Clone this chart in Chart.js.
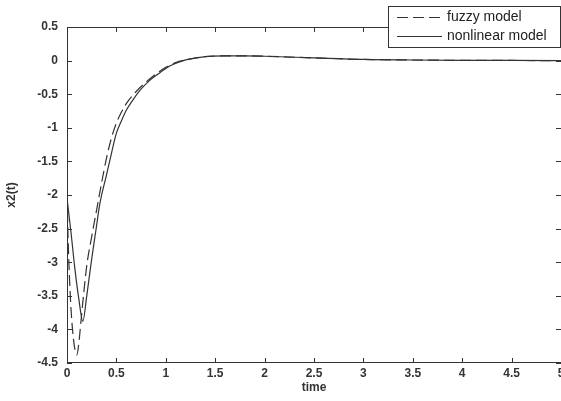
<!DOCTYPE html>
<html>
<head>
<meta charset="utf-8">
<script src="https://cdn.jsdelivr.net/npm/chart.js@4.4.1/dist/chart.umd.min.js"></script>
<style>
  html, body { margin: 0; padding: 0; background: #fff; }
  #wrap { width: 561px; height: 401px; }
</style>
</head>
<body>
<div id="wrap"><canvas id="chart" width="561" height="401"></canvas></div>
<script>
// Data
const tFuzzy = [0, 0.01, 0.03, 0.05, 0.08, 0.1, 0.12, 0.14, 0.17, 0.2, 0.25, 0.3, 0.35, 0.4, 0.45, 0.5, 0.55, 0.6, 0.7, 0.8, 0.9, 1.0, 1.1, 1.2, 1.4, 1.6, 1.8, 2.0, 2.5, 3.0, 3.5, 4.0, 4.5, 5.0];
const xFuzzy = [-2.0, -2.6, -3.4, -3.9, -4.3, -4.38, -4.2, -3.9, -3.45, -3.05, -2.62, -2.22, -1.82, -1.45, -1.15, -0.93, -0.77, -0.64, -0.46, -0.32, -0.2, -0.1, -0.03, 0.01, 0.06, 0.07, 0.07, 0.065, 0.04, 0.017, 0.009, 0.004, 0.002, 0.0];

const tNonlinear = [0, 0.04, 0.08, 0.12, 0.16, 0.2, 0.25, 0.3, 0.33, 0.4, 0.45, 0.5, 0.55, 0.6, 0.67, 0.74, 0.84, 0.94, 1.04, 1.14, 1.2, 1.4, 1.6, 1.8, 2.0, 2.5, 3.0, 3.5, 4.0, 4.5, 5.0];
const xNonlinear = [-2.05, -2.55, -3.1, -3.55, -3.88, -3.5, -2.95, -2.45, -2.15, -1.7, -1.38, -1.08, -0.9, -0.74, -0.58, -0.44, -0.29, -0.18, -0.08, -0.02, 0.01, 0.06, 0.07, 0.07, 0.065, 0.04, 0.017, 0.009, 0.004, 0.002, 0.0];

const seriesNames = ['fuzzy model', 'nonlinear model'];
const xTicks = [0, 0.5, 1, 1.5, 2, 2.5, 3, 3.5, 4, 4.5, 5];
const yTicks = [0.5, 0, -0.5, -1, -1.5, -2, -2.5, -3, -3.5, -4, -4.5];

const lineColor = '#333333';
const fontFamily = '"Liberation Sans", Arial, sans-serif';

function toPoints(ts, xs) {
    return ts.map((t, i) => ({ x: t, y: xs[i] }));
}

// Box frame (right edge falls off the canvas), inward ticks, legend box
const matlabFrame = {
    id: 'matlabFrame',
    afterDraw(chart) {
        const ctx = chart.ctx;
        const a = chart.chartArea;
        const sx = chart.scales.x;
        const sy = chart.scales.y;
        const len = 5;
        ctx.save();
        ctx.strokeStyle = lineColor;
        ctx.lineWidth = 1;
        ctx.beginPath();
        ctx.moveTo(a.right, a.top + 0.5);
        ctx.lineTo(a.left + 0.5, a.top + 0.5);
        ctx.lineTo(a.left + 0.5, a.bottom - 0.5);
        ctx.lineTo(a.right, a.bottom - 0.5);
        xTicks.forEach(v => {
            const px = Math.round(sx.getPixelForValue(v)) + 0.5;
            ctx.moveTo(px, a.bottom); ctx.lineTo(px, a.bottom - len);
            ctx.moveTo(px, a.top); ctx.lineTo(px, a.top + len);
        });
        yTicks.forEach(v => {
            const py = Math.round(sy.getPixelForValue(v)) + 0.5;
            ctx.moveTo(a.left, py); ctx.lineTo(a.left + len, py);
            ctx.moveTo(a.right, py); ctx.lineTo(a.right - len, py);
        });
        ctx.stroke();

        // legend
        const lx = 388, ly = 6, lw = 172, lh = 41;
        ctx.fillStyle = '#fff';
        ctx.fillRect(lx, ly, lw, lh);
        ctx.strokeRect(lx + 0.5, ly + 0.5, lw, lh);
        ctx.font = '14px ' + fontFamily;
        ctx.textBaseline = 'middle';
        chart.data.datasets.forEach((ds, i) => {
            const y = ly + 11 + i * 19 + 0.5;
            ctx.strokeStyle = ds.borderColor;
            ctx.lineWidth = ds.borderWidth;
            ctx.setLineDash(ds.borderDash || []);
            ctx.beginPath();
            ctx.moveTo(lx + 9, y);
            ctx.lineTo(lx + 54, y);
            ctx.stroke();
            ctx.setLineDash([]);
            ctx.fillStyle = '#222';
            ctx.fillText(ds.label, lx + 59, y);
        });
        ctx.restore();
    }
};

new Chart(document.getElementById('chart'), {
    type: 'line',
    data: {
        datasets: [
            {
                label: seriesNames[0],
                data: toPoints(tFuzzy, xFuzzy),
                borderColor: lineColor,
                borderWidth: 1.2,
                borderDash: [11, 5],
                pointRadius: 0,
                fill: false,
                cubicInterpolationMode: 'monotone'
            },
            {
                label: seriesNames[1],
                data: toPoints(tNonlinear, xNonlinear),
                borderColor: lineColor,
                borderWidth: 1.2,
                pointRadius: 0,
                fill: false,
                cubicInterpolationMode: 'monotone'
            }
        ]
    },
    options: {
        responsive: false,
        animation: false,
        devicePixelRatio: 1,
        layout: { autoPadding: false, padding: { top: 27, right: 0, left: 0, bottom: 0 } },
        plugins: {
            legend: { display: false },
            tooltip: { enabled: false }
        },
        scales: {
            x: {
                type: 'linear',
                min: 0,
                max: 5,
                afterFit: s => { s.height = 38; s.paddingLeft = 0; s.paddingRight = 0; },
                afterBuildTicks: s => { s.ticks = xTicks.map(v => ({ value: v })); },
                grid: { display: false, drawTicks: false },
                border: { display: false },
                ticks: {
                    padding: 3,
                    color: '#333',
                    font: { family: fontFamily, size: 12, weight: 'bold' },
                    maxRotation: 0,
                    autoSkip: false,
                    callback: v => String(v)
                },
                title: {
                    display: true,
                    text: 'time',
                    color: '#333',
                    padding: { top: 0, bottom: 6 },
                    font: { family: fontFamily, size: 12, weight: 'bold' }
                }
            },
            y: {
                type: 'linear',
                min: -4.5,
                max: 0.5,
                afterFit: s => { s.width = 67; s.paddingTop = 0; s.paddingBottom = 0; },
                afterBuildTicks: s => { s.ticks = yTicks.map(v => ({ value: v })); },
                grid: { display: false, drawTicks: false },
                border: { display: false },
                ticks: {
                    padding: 9,
                    color: '#333',
                    font: { family: fontFamily, size: 12, weight: 'bold' },
                    autoSkip: false,
                    callback: v => String(v)
                },
                title: {
                    display: true,
                    text: 'x2(t)',
                    color: '#333',
                    padding: { top: 4, bottom: 0 },
                    font: { family: fontFamily, size: 12, weight: 'bold' }
                }
            }
        }
    },
    plugins: [matlabFrame]
});
</script>
</body>
</html>
